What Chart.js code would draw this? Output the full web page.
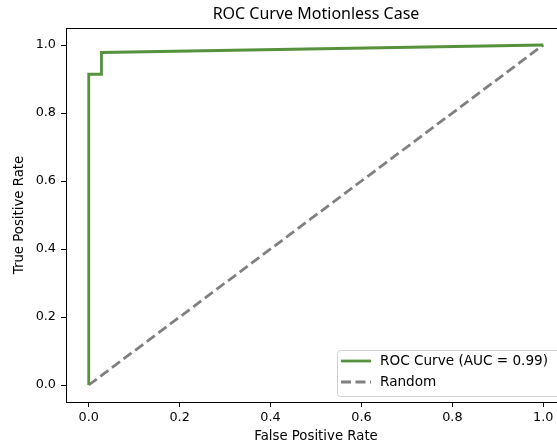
<!DOCTYPE html>
<html>
<head>
    <title>ROC Curve Motionless Case</title>
    <script src="https://cdn.jsdelivr.net/npm/chart.js"></script>
    <style>
        html, body {
            margin: 0;
            padding: 0;
            background: white;
            overflow: hidden;
        }
        canvas {
            display: block;
        }
    </style>
</head>
<body>
    <canvas id="rocChart" width="600" height="445"></canvas>
    <script>
        // values
        const rocFpr = [0, 0, 0.028, 0.028, 1];
        const rocTpr = [0, 0.914, 0.914, 0.978, 1];
        const randomFpr = [0, 1];
        const randomTpr = [0, 1];
        const xTicks = [0, 0.2, 0.4, 0.6, 0.8, 1.0];
        const yTicks = [0, 0.2, 0.4, 0.6, 0.8, 1.0];
        const seriesLabels = ['ROC Curve (AUC = 0.99)', 'Random'];

        const green = '#56923c';
        const grey = '#808080';
        const tickFont = { family: 'DejaVu Sans', size: 12.8 };
        const labelFont = { family: 'DejaVu Sans', size: 13.3 };

        // top / right spines like matplotlib
        const spines = {
            id: 'spines',
            afterDraw(chart) {
                const { ctx, chartArea: a } = chart;
                ctx.save();
                ctx.strokeStyle = '#000';
                ctx.lineWidth = 1;
                ctx.beginPath();
                ctx.moveTo(a.left, a.top + 0.5);
                ctx.lineTo(a.right, a.top + 0.5);
                ctx.lineTo(a.right - 0.5, a.bottom);
                ctx.stroke();
                ctx.restore();
            }
        };

        // title and legend inside the axes, matplotlib style
        const overlay = {
            id: 'overlay',
            afterDraw(chart) {
                const { ctx, chartArea: a } = chart;
                ctx.save();
                ctx.fillStyle = '#000';
                ctx.font = '16px "Noto Sans"';
                ctx.textAlign = 'center';
                ctx.textBaseline = 'middle';
                ctx.fillText('ROC Curve Motionless Case', (a.left + a.right) / 2, 14);

                // legend box
                const bx = 337.5, by = 350.5, bw = 240, bh = 46, r = 3;
                ctx.beginPath();
                ctx.roundRect(bx, by, bw, bh, r);
                ctx.fillStyle = 'rgba(255,255,255,0.8)';
                ctx.fill();
                ctx.strokeStyle = '#d0d0d0';
                ctx.lineWidth = 1;
                ctx.stroke();

                const rows = [
                    { y: 361, color: green, dash: [] },
                    { y: 382, color: grey, dash: [10, 4.5] }
                ];
                ctx.font = '13.6px "DejaVu Sans"';
                ctx.textAlign = 'left';
                rows.forEach((row, i) => {
                    ctx.beginPath();
                    ctx.setLineDash(row.dash);
                    ctx.strokeStyle = row.color;
                    ctx.lineWidth = 2.8;
                    ctx.moveTo(341, row.y);
                    ctx.lineTo(371, row.y);
                    ctx.stroke();
                    ctx.setLineDash([]);
                    ctx.fillStyle = '#000';
                    ctx.fillText(seriesLabels[i], 380, row.y + 0.5);
                });
                ctx.restore();
            }
        };

        const ctx = document.getElementById('rocChart').getContext('2d');
        new Chart(ctx, {
            type: 'line',
            data: {
                datasets: [{
                    label: seriesLabels[0],
                    data: rocFpr.map((x, i) => ({ x: x, y: rocTpr[i] })),
                    borderColor: green,
                    borderWidth: 2.8,
                    pointRadius: 0,
                    tension: 0,
                    fill: false
                }, {
                    label: seriesLabels[1],
                    data: randomFpr.map((x, i) => ({ x: x, y: randomTpr[i] })),
                    borderColor: grey,
                    borderWidth: 2.8,
                    borderDash: [10, 4.5],
                    pointRadius: 0,
                    tension: 0,
                    fill: false
                }]
            },
            options: {
                responsive: false,
                animation: false,
                layout: { padding: { top: 28, right: 34, left: 0, bottom: 0 } },
                plugins: {
                    legend: { display: false },
                    title: { display: false },
                    tooltip: { enabled: false }
                },
                scales: {
                    x: {
                        type: 'linear',
                        min: -0.05,
                        max: 1.05,
                        afterBuildTicks: s => { s.ticks = xTicks.map(v => ({ value: v })); },
                        afterFit: s => { s.height = 43; },
                        ticks: {
                            autoSkip: false,
                            maxRotation: 0,
                            padding: 3,
                            color: '#000',
                            font: tickFont,
                            callback: v => v.toFixed(1)
                        },
                        grid: {
                            drawOnChartArea: false,
                            drawTicks: true,
                            tickLength: 5,
                            color: '#000'
                        },
                        border: { color: '#000', width: 1 },
                        title: {
                            display: true,
                            text: 'False Positive Rate',
                            color: '#000',
                            font: labelFont,
                            padding: { top: 0, bottom: 0 }
                        }
                    },
                    y: {
                        type: 'linear',
                        min: -0.05,
                        max: 1.05,
                        afterBuildTicks: s => { s.ticks = yTicks.map(v => ({ value: v })); },
                        afterFit: s => { s.width = 66; },
                        ticks: {
                            padding: 5,
                            color: '#000',
                            font: tickFont,
                            callback: v => v.toFixed(1)
                        },
                        grid: {
                            drawOnChartArea: false,
                            drawTicks: true,
                            tickLength: 5,
                            color: '#000'
                        },
                        border: { color: '#000', width: 1 },
                        title: {
                            display: true,
                            text: 'True Positive Rate',
                            color: '#000',
                            font: labelFont,
                            padding: { top: 12, bottom: 0 }
                        }
                    }
                }
            },
            plugins: [spines, overlay]
        });
    </script>
</body>
</html>
